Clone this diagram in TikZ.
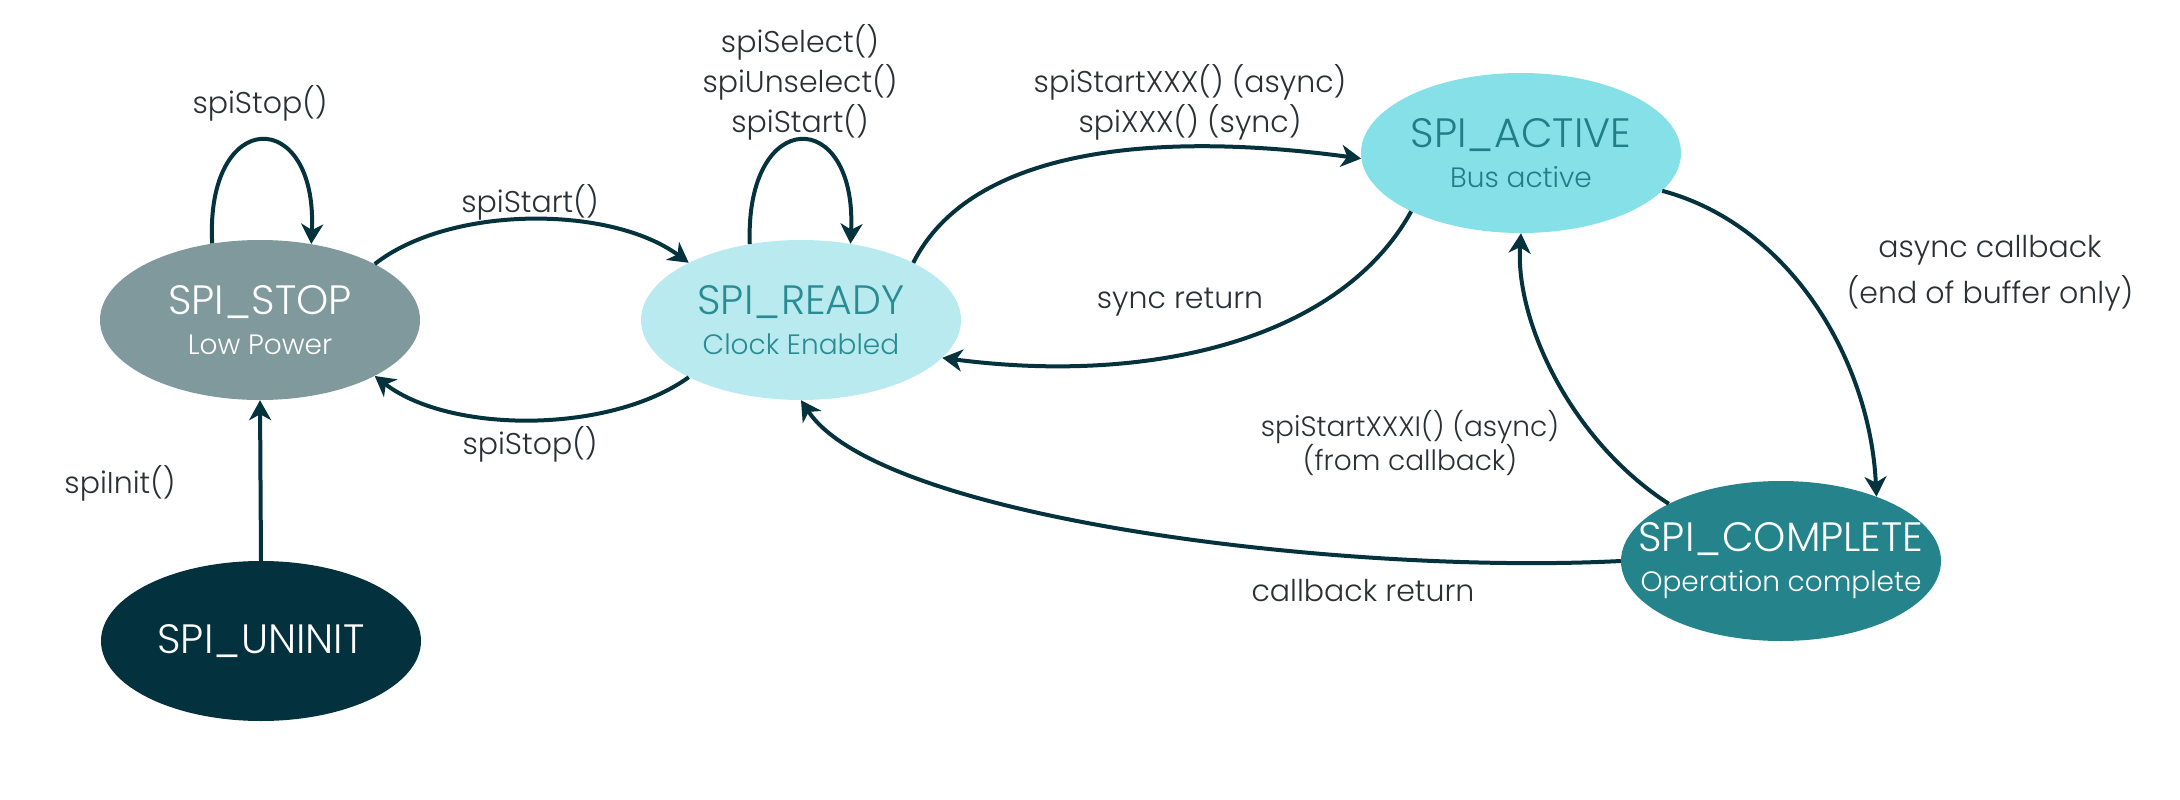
\documentclass[tikz,border=0pt]{standalone}
\usepackage{fontspec}
\setmainfont{Poppins}[UprightFont=* Light]
\usetikzlibrary{arrows.meta,shapes.geometric}
\definecolor{stopfill}{HTML}{80999D}
\definecolor{readyfill}{HTML}{B8EAF0}
\definecolor{readytext}{HTML}{2A8C93}
\definecolor{activefill}{HTML}{86E0E7}
\definecolor{activetext}{HTML}{1F7E86}
\definecolor{completefill}{HTML}{25848B}
\definecolor{uninitfill}{HTML}{03323E}
\definecolor{edgecol}{HTML}{04323D}
\definecolor{labcol}{HTML}{2B3035}
\newcommand{\sttl}[1]{\makebox[0pt]{\fontsize{41}{40}\selectfont #1}}
\newcommand{\ssub}[1]{\makebox[0pt]{\fontsize{28}{40}\selectfont #1}}
\tikzset{
  state/.style={ellipse, minimum width=320pt, minimum height=160pt, inner sep=0pt, align=center,
    font=\fontsize{28}{40}\selectfont},
  edge/.style={draw=edgecol, line width=4pt, -{Stealth[length=20pt,width=22pt,inset=6pt]}},
  lab/.style={text=labcol, align=center, font=\fontsize{30}{41}\selectfont, inner sep=0pt},
  smalllab/.style={text=labcol, align=center, font=\fontsize{28}{33}\selectfont, inner sep=0pt}
}
\begin{document}
\begin{tikzpicture}[x=1pt,y=-1pt]
\useasboundingbox[fill=white] (0,0) rectangle (2180,800);
% states
\node[state, fill=stopfill, text=white] (stop) at (260,320)
  {\sttl{SPI\_STOP}\\\ssub{Low Power}};
\node[state, fill=readyfill, text=readytext] (ready) at (801,320)
  {\sttl{SPI\_READY}\\\ssub{Clock Enabled}};
\node[state, fill=activefill, text=activetext] (active) at (1521,153)
  {\sttl{SPI\_ACTIVE}\\\ssub{Bus active}};
\node[state, fill=completefill, text=white] (complete) at (1781,561)
  {\sttl{SPI\_COMPLETE}\\\ssub{Operation complete}};
\node[state, fill=uninitfill, text=white] (uninit) at (261,641)
  {\sttl{SPI\_UNINIT}};
% edges
\draw[edge] (stop.122) .. controls (205,106) and (318,106) .. (stop.56);
\draw[edge] (stop.26) .. controls (450,205) and (610,205) .. (ready.153);
\draw[edge] (ready.207) .. controls (610,434) and (450,434) .. (stop.334);
\draw[edge] (ready.124) .. controls (745,106) and (857,106) .. (ready.57);
\draw[edge] (ready.27) .. controls (970,150) and (1150,130) .. (active.182.5);
\draw[edge] (active.208.7) .. controls (1340,340) and (1150,385) .. (ready.345.5);
\draw[edge] (active.345) .. controls (1790,225) and (1870,360) .. (complete.34.8);
\draw[edge] (complete.153.4) .. controls (1570,440) and (1515,320) .. (active.270);
\draw[edge] (complete.180) .. controls (1350,575) and (880,520) .. (ready.270);
\draw[edge] (uninit.north) -- (stop.south);
% labels
\node[lab] (l1) at (260,103) {spiStop()};
\node[lab] (l2) at (530,202) {spiStart()};
\node[lab] (l3) at (530,444) {spiStop()};
\node[lab] (l4a) at (800,42) {spiSelect()};
\node[lab] (l4b) at (800,82) {spiUnselect()};
\node[lab] (l4c) at (800,122) {spiStart()};
\node[lab] (l5a) at (1190,82) {spiStartXXX() (async)};
\node[lab] (l5b) at (1190,122) {spiXXX() (sync)};
\node[lab] (l6) at (1180,302) {sync return};
\node[lab] (l7a) at (1990,250) {async callback};
\node[lab] (l7b) at (1990,293) {(end of buffer only)};
\node[smalllab] (l8a) at (1410,427) {spiStartXXXI() (async)};
\node[smalllab] (l8b) at (1410,460) {(from callback)};
\node[lab] (l9) at (1363,591) {callback return};
\node[lab] (l10) at (120,483) {spiInit()};
\end{tikzpicture}
\end{document}
